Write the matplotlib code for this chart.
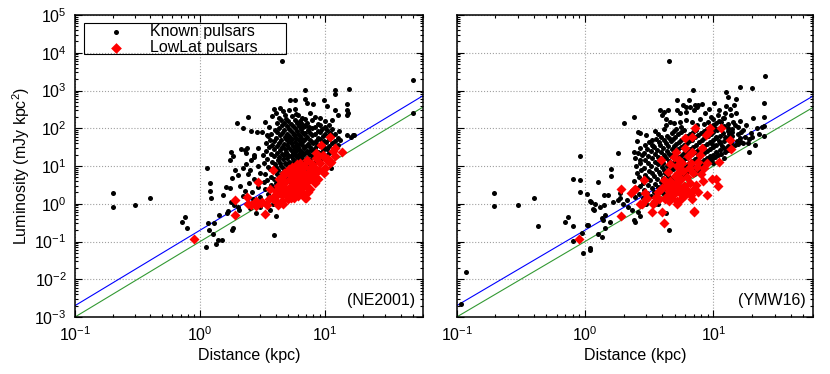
import numpy as np
import matplotlib
matplotlib.use("Agg")
import matplotlib.pyplot as plt
from matplotlib.patches import Rectangle
from matplotlib.ticker import LogLocator, NullFormatter

plt.rcParams['font.family'] = ['Liberation Sans', 'DejaVu Sans']
plt.rcParams['mathtext.fontset'] = 'custom'
plt.rcParams['mathtext.rm'] = 'Liberation Sans'
plt.rcParams['mathtext.default'] = 'regular'

# ---- data: (distance kpc, luminosity mJy kpc^2) ----
ne_known = [
    (0.2, 1.9), (0.2, 0.84), (0.3, 0.9), (0.4, 1.4),
    (0.72, 0.32), (0.75, 0.44), (0.78, 0.23),
    (1.12, 0.072), (1.13, 8.7), (1.15, 0.3), (1.17, 0.2), (1.19, 3.5), (1.19, 2.2), (1.22, 1.4),
    (1.26, 0.16), (1.3, 0.3), (1.33, 0.085), (1.4, 0.11), (1.42, 0.5), (1.5, 0.11), (1.52, 1.7),
    (1.6, 2.8), (1.63, 0.56), (1.66, 0.65), (1.72, 2.6), (1.75, 1.1), (1.77, 24), (1.72, 14),
    (1.83, 18), (1.8, 0.2), (1.84, 0.23), (1.85, 0.9), (1.9, 7.6), (2.0, 5.8), (1.8, 4.8),
    (1.98, 141), (2.02, 0.84), (2.06, 0.7), (2.13, 29), (2.2, 100), (2.27, 26), (2.34, 22),
    (2.34, 11.5), (2.4, 196), (2.5, 7.6), (2.56, 14), (2.55, 87), (2.85, 81), (2.5, 0.75),
    (2.8, 0.56), (3.0, 0.8), (2.1, 3.0), (2.2, 1.6), (2.3, 2.2), (2.45, 3.5), (2.6, 2.0),
    (2.7, 4.5), (2.9, 2.7), (2.65, 1.3), (2.2, 9.0), (2.4, 6.0), (2.7, 17), (2.9, 10), (3.0, 6.5),
    (3.1, 81), (3.4, 66), (3.6, 49), (3.35, 40), (2.9, 30), (3.2, 20), (3.0, 1.5), (3.3, 2.5),
    (3.9, 0.15), (4.0, 0.47), (3.6, 0.7), (3.8, 1.0), (3.5, 1.8), (2.35, 30), (2.7, 19.5),
    (3.25, 3.8), (3.3, 6.2), (3.22, 12), (3.35, 25), (3.28, 150), (3.45, 4.2), (3.5, 9.5),
    (3.42, 15), (3.55, 31), (3.48, 62), (3.52, 110),
    (3.65, 3.1), (3.7, 5.2), (3.62, 8.3), (3.75, 13), (3.68, 21), (3.72, 36), (3.66, 72),
    (3.74, 205), (3.85, 2.6), (3.9, 4.6), (3.82, 7.2), (3.95, 11), (3.88, 18), (3.92, 29),
    (3.86, 46), (3.94, 92), (3.9, 330),
    (4.05, 3.6), (4.1, 6.1), (4.02, 9.2), (4.15, 14), (4.08, 22), (4.12, 34), (4.06, 56),
    (4.14, 82), (4.1, 135), (4.04, 255),
    (4.25, 2.9), (4.3, 5.1), (4.22, 7.6), (4.35, 12), (4.28, 17), (4.32, 26), (4.26, 41),
    (4.34, 66), (4.3, 102), (4.24, 185), (4.36, 340),
    (4.45, 4.1), (4.5, 6.6), (4.42, 10), (4.55, 15), (4.48, 21), (4.52, 31), (4.46, 49),
    (4.54, 77), (4.5, 122), (4.44, 165), (4.56, 285), (4.47, 6100),
    (4.65, 3.1), (4.7, 5.6), (4.62, 8.6), (4.75, 12), (4.68, 19), (4.72, 28), (4.66, 39),
    (4.74, 59), (4.7, 92), (4.64, 142), (4.76, 225),
    (4.85, 4.6), (4.9, 7.1), (4.82, 11), (4.95, 16), (4.88, 24), (4.92, 36), (4.86, 53),
    (4.94, 71), (4.9, 112), (4.84, 178),
    (5.05, 3.9), (5.1, 6.1), (5.02, 9.1), (5.15, 13), (5.08, 20), (5.12, 30), (5.06, 45),
    (5.14, 63), (5.1, 97), (5.04, 152), (5.16, 305),
    (5.25, 5.1), (5.3, 8.1), (5.22, 12), (5.35, 18), (5.28, 26), (5.32, 41), (5.26, 56),
    (5.34, 87), (5.3, 132), (5.2, 570),
    (5.45, 4.3), (5.5, 7.1), (5.42, 10), (5.55, 15), (5.48, 22), (5.52, 34), (5.46, 51),
    (5.54, 76), (5.5, 117), (5.44, 205),
    (5.65, 6.1), (5.7, 9.1), (5.62, 13), (5.75, 19), (5.68, 28), (5.72, 43), (5.66, 66),
    (5.74, 102), (5.7, 162), (5.7, 315), (5.7, 550),
    (5.85, 5.1), (5.9, 8.1), (5.82, 11), (5.95, 17), (5.88, 25), (5.92, 37), (5.86, 56),
    (5.94, 86), (5.9, 137), (5.84, 245),
    (6.05, 6.6), (6.1, 10), (6.02, 14), (6.15, 21), (6.08, 31), (6.12, 48), (6.06, 71),
    (6.14, 112), (6.1, 228),
    (6.25, 5.6), (6.3, 9.1), (6.22, 12), (6.35, 18), (6.28, 27), (6.32, 41), (6.26, 61),
    (6.34, 96), (6.3, 152),
    (6.45, 7.1), (6.5, 11), (6.42, 16), (6.55, 24), (6.48, 35), (6.52, 53), (6.46, 81),
    (6.54, 126), (6.5, 192),
    (6.65, 8.1), (6.7, 13), (6.62, 20), (6.75, 30), (6.68, 46), (6.72, 69), (6.66, 106),
    (6.9, 600),
    (6.85, 9.1), (6.9, 14), (6.82, 22), (6.95, 33), (6.88, 51), (6.92, 76), (6.86, 117),
    (6.94, 172), (6.9, 1020),
    (7.15, 10), (7.2, 16), (7.12, 25), (7.25, 38), (7.18, 59), (7.22, 89), (7.16, 142), (7.2, 470),
    (7.45, 9.2), (7.5, 14), (7.42, 21), (7.55, 32), (7.48, 49), (7.52, 73), (7.46, 111), (7.5, 252),
    (7.75, 12), (7.8, 18), (7.72, 27), (7.85, 43), (7.78, 66), (7.82, 101), (7.76, 162),
    (8.0, 11), (8.05, 17), (7.98, 26), (8.02, 41), (8.0, 440),
    (8.25, 13), (8.3, 20), (8.22, 30), (8.35, 46), (8.28, 71), (8.32, 111), (8.3, 202),
    (8.65, 15), (8.7, 23), (8.62, 35), (8.75, 56), (8.68, 86), (8.72, 131),
    (9.05, 14), (9.1, 22), (9.02, 33), (9.15, 51), (9.08, 79), (9.12, 121), (9.1, 182),
    (9.45, 17), (9.5, 26), (9.42, 40), (9.55, 63), (9.48, 96),
    (9.85, 20), (9.9, 30), (9.82, 46), (9.95, 71), (9.88, 111), (9.8, 560), (9.92, 152),
    (10.25, 18), (10.3, 28), (10.22, 42), (10.3, 380), (10.35, 91),
    (10.75, 22), (10.8, 33), (10.72, 51), (10.85, 76), (10.78, 122),
    (11.2, 9.0), (11.3, 25), (11.22, 40), (11.35, 61), (11.28, 96), (11.32, 162),
    (11.9, 28), (11.85, 46), (11.95, 71), (11.9, 310), (12.0, 800), (12.0, 1020),
    (12.7, 35), (12.65, 56), (12.75, 86), (12.7, 225), (13.0, 50),
    (15.0, 65), (15.0, 300), (15.2, 250), (14.8, 220), (15.0, 450), (15.5, 1100),
    (16.5, 66), (16.0, 60), (17.0, 65),
    (50.0, 1900), (50.0, 250),
]

ne_lowlat = [
    (0.9, 0.115), (1.9, 1.25), (1.9, 0.5), (2.35, 1.5), (2.4, 1.0), (2.55, 0.92), (2.8, 1.2),
    (2.8, 0.85), (2.9, 3.8), (3.05, 1.02), (3.3, 0.54), (3.4, 0.9), (3.55, 1.3), (3.8, 7.8),
    (3.9, 1.6), (4.0, 2.2), (4.1, 1.1), (4.2, 3.0), (4.3, 4.5), (4.4, 2.0), (4.5, 1.2),
    (4.6, 5.5), (4.7, 2.8), (4.8, 3.8), (4.9, 1.6), (5.0, 7.0), (5.1, 2.4), (5.2, 4.6),
    (5.3, 1.4), (5.4, 9.5), (5.5, 3.2), (5.6, 6.0), (5.7, 2.0), (5.8, 1.7), (5.9, 4.0),
    (6.0, 8.5), (6.1, 2.6), (6.2, 5.2), (6.3, 12), (6.4, 3.4), (6.5, 7.0), (6.6, 1.9),
    (6.7, 4.8), (6.8, 10), (6.9, 1.45), (7.0, 3.0), (7.1, 6.0), (7.2, 14), (7.4, 4.2),
    (7.5, 8.5), (7.6, 2.5), (7.8, 11), (8.0, 5.5), (8.2, 3.6), (8.4, 16), (8.6, 7.5),
    (8.8, 4.5), (9.0, 12), (9.3, 36), (9.5, 20), (9.8, 6.5), (10.0, 9.0), (10.5, 15),
    (11.0, 57), (11.0, 12), (11.5, 25), (12.0, 18), (13.7, 24), (4.0, 1.6), (4.6, 1.0),
    (5.0, 1.3), (5.5, 2.5), (6.0, 1.6), (5.2, 2.0), (4.4, 3.5), (5.7, 5.0), (6.3, 2.2),
    (7.3, 2.0), (3.6, 2.5), (3.8, 1.3), (4.2, 0.95), (7.0, 1.45), (5.6, 1.45), (3.1, 1.1),
    (8.5, 22), (9.6, 18), (11.9, 30), (10.3, 14.5), (11.2, 13),
    (4.5, 1.7), (4.8, 2.2), (5.3, 3.0), (5.6, 4.2), (6.1, 3.6), (6.5, 2.8), (6.8, 5.5),
    (7.2, 4.0), (7.8, 6.5), (8.3, 9.0), (8.9, 8.0), (5.9, 11), (6.6, 9.0), (4.7, 6.5), (5.1, 8.2),
]

ymw_known = [
    (0.108, 0.0022), (0.118, 0.0156), (0.197, 1.9), (0.197, 0.85), (0.3, 0.9), (0.4, 1.38),
    (0.43, 0.25), (0.70, 0.32), (0.73, 0.45), (0.8, 0.25), (0.81, 0.105), (0.91, 18),
    (0.81, 4.5), (0.92, 4.3), (0.92, 2.0), (0.94, 0.17), (0.97, 0.05),
    (1.09, 0.068), (1.09, 0.059), (1.03, 1.8), (1.06, 0.27), (1.1, 1.15), (1.15, 0.72),
    (1.26, 3.7), (1.26, 0.16), (1.35, 0.13), (1.35, 0.42), (1.4, 0.93), (1.42, 0.49),
    (1.44, 0.23), (1.4, 1.74), (1.5, 1.74), (1.6, 8.5), (1.6, 5.3), (1.8, 22), (2.0, 134),
    (1.8, 1.26), (2.4, 195), (1.12, 1.13), (1.2, 1.0), (1.3, 0.83), (1.17, 0.67), (1.37, 0.37),
    (1.57, 0.33), (1.03, 0.28), (1.65, 1.13), (1.88, 1.4), (1.98, 1.0), (2.12, 1.26),
    (2.17, 0.83), (2.31, 0.67), (2.6, 0.61), (3.0, 1.0), (2.7, 0.46), (2.4, 0.37), (2.45, 0.33),
    (1.88, 1.9), (3.5, 1.0), (3.7, 0.96), (4.3, 0.56), (4.5, 0.2), (4.47, 6000),
    (2.6, 81), (2.7, 74), (2.4, 24), (2.45, 16), (2.6, 22), (2.7, 14.5), (2.8, 19),
    (2.45, 1.5), (2.5, 2.6), (2.42, 4.0), (2.55, 6.5), (2.48, 10), (2.55, 45),
    (2.65, 1.8), (2.7, 3.0), (2.62, 5.0), (2.75, 8.0), (2.68, 12), (2.66, 30),
    (2.85, 1.4), (2.9, 2.3), (2.82, 3.6), (2.95, 5.8), (2.88, 9.0), (2.92, 14), (2.86, 22),
    (2.94, 35),
    (3.05, 1.9), (3.1, 3.1), (3.02, 4.8), (3.15, 7.5), (3.08, 12), (3.12, 18), (3.06, 28),
    (3.14, 44), (3.0, 66),
    (3.25, 1.6), (3.3, 2.6), (3.22, 4.2), (3.35, 6.6), (3.28, 10), (3.32, 16), (3.26, 25),
    (3.34, 36), (3.3, 49), (3.4, 33),
    (3.45, 2.1), (3.5, 3.4), (3.42, 5.5), (3.55, 8.5), (3.48, 13), (3.52, 21), (3.46, 32),
    (3.54, 52), (3.5, 85),
    (3.65, 1.7), (3.7, 2.8), (3.62, 4.5), (3.75, 7.0), (3.68, 11), (3.72, 17), (3.66, 27),
    (3.74, 42), (3.7, 70), (3.86, 300),
    (3.85, 2.3), (3.9, 3.7), (3.82, 6.0), (3.95, 9.5), (3.88, 15), (3.92, 23), (3.86, 36),
    (3.94, 58), (3.95, 225),
    (4.05, 1.9), (4.1, 3.0), (4.02, 4.9), (4.15, 7.8), (4.08, 12), (4.12, 19), (4.06, 30),
    (4.14, 48), (4.1, 95), (4.1, 275), (4.3, 180),
    (4.25, 2.5), (4.3, 4.0), (4.22, 6.4), (4.35, 10), (4.28, 16), (4.32, 25), (4.26, 40),
    (4.34, 64), (4.3, 120),
    (4.45, 2.1), (4.5, 3.4), (4.42, 5.4), (4.55, 8.6), (4.48, 13.5), (4.52, 21), (4.46, 34),
    (4.54, 55), (4.45, 300), (4.6, 148),
    (4.65, 2.8), (4.7, 4.5), (4.62, 7.2), (4.75, 11.5), (4.68, 18), (4.72, 29), (4.66, 46),
    (4.74, 75),
    (4.85, 3.2), (4.9, 5.2), (4.82, 8.3), (4.95, 13), (4.88, 21), (4.92, 33), (4.86, 52),
    (4.94, 85), (4.9, 134),
    (5.05, 3.8), (5.1, 6.0), (5.02, 9.6), (5.15, 15), (5.08, 24), (5.12, 38), (5.06, 60),
    (5.14, 95), (5.2, 300), (5.2, 560),
    (5.3, 4.4), (5.35, 7.0), (5.28, 11), (5.4, 17.5), (5.32, 28), (5.38, 44), (5.3, 70),
    (5.5, 250), (5.5, 148),
    (5.55, 5.0), (5.6, 8.0), (5.52, 12.5), (5.65, 20), (5.58, 32), (5.62, 50), (5.56, 80),
    (5.6, 110),
    (5.85, 5.6), (5.9, 9.0), (5.82, 14), (5.95, 22), (5.88, 36), (5.92, 56), (5.8, 420),
    (5.9, 90),
    (6.15, 6.5), (6.2, 10), (6.12, 16), (6.25, 25), (6.18, 40), (6.22, 63), (6.1, 270),
    (6.1, 165), (6.1, 360),
    (6.45, 7.5), (6.5, 12), (6.42, 18), (6.55, 28), (6.48, 45), (6.52, 70), (6.5, 560),
    (6.6, 370),
    (6.8, 8.5), (6.85, 13.5), (6.78, 21), (6.9, 32), (6.82, 50), (6.88, 78), (6.8, 148),
    (6.9, 1020), (7.1, 300),
    (7.2, 9.5), (7.25, 15), (7.18, 24), (7.3, 37), (7.22, 58), (7.28, 90), (7.2, 420),
    (7.6, 11), (7.65, 17), (7.58, 27), (7.7, 42), (7.62, 66), (7.6, 420), (7.5, 370),
    (8.0, 12.5), (8.05, 19), (7.98, 30), (8.1, 48), (8.02, 75), (8.1, 440),
    (8.4, 14), (8.45, 22), (8.38, 34), (8.5, 54), (8.42, 85), (8.5, 130),
    (8.9, 16), (8.95, 25), (8.88, 39), (9.0, 62), (8.92, 97), (9.0, 150),
    (9.4, 18), (9.45, 28), (9.38, 44), (9.5, 70), (9.42, 110), (9.5, 200),
    (9.9, 20), (9.95, 31), (9.88, 50), (10.0, 80), (9.92, 125), (10.1, 460), (10.0, 180),
    (10.5, 23), (10.55, 36), (10.48, 56), (10.6, 90), (10.5, 140), (11.0, 300), (10.8, 220),
    (11.2, 26), (11.25, 41), (11.18, 64), (11.3, 100), (11.8, 185), (11.5, 150),
    (12.0, 30), (12.05, 47), (11.98, 75), (12.1, 115), (12.5, 930), (12.4, 250), (12.6, 400),
    (13.1, 690),
    (12.9, 34), (12.95, 54), (12.88, 85), (13.0, 130), (13.7, 225), (13.4, 330),
    (13.8, 40), (14.0, 62), (13.9, 96), (14.2, 150), (15.0, 250), (15.0, 590), (14.5, 420),
    (15.2, 45), (15.5, 70), (15.6, 105), (16.0, 1260), (16.4, 81), (16.0, 160),
    (17.0, 40), (17.5, 58), (18.0, 120), (19.0, 51), (19.0, 24), (19.5, 74), (20.0, 1180),
    (20.5, 190), (22.0, 100), (22.5, 70), (24.0, 110),
    (25.4, 2400), (25.0, 460), (25.0, 200), (25.0, 115), (25.0, 63),
    (7.0, 6.0), (7.4, 7.5), (7.9, 9.0), (8.3, 10.5), (8.7, 12), (9.2, 13.5), (9.7, 15),
    (10.2, 17), (10.8, 19), (11.5, 21), (12.2, 24), (13.0, 27), (13.8, 31), (14.6, 35),
    (15.5, 38), (16.5, 44), (7.4, 120), (7.9, 180), (8.6, 250), (9.3, 330), (10.5, 60),
    (11.0, 45), (11.6, 33), (12.4, 60), (13.2, 70), (14.0, 80), (14.8, 120), (16.0, 55),
    (17.0, 90), (18.5, 40), (20.0, 60), (21.0, 35), (9.8, 38), (10.3, 100), (11.0, 160),
    (12.0, 190), (13.0, 100), (12.0, 16), (10.0, 12),
]

ymw_lowlat = [
    (0.89, 0.117), (1.9, 2.4), (1.9, 0.48), (2.3, 1.9), (2.4, 2.3), (2.45, 2.4), (2.7, 1.0),
    (2.78, 1.0), (2.9, 4.3), (2.95, 1.9), (3.05, 1.4), (3.0, 1.3), (3.3, 0.6), (3.4, 1.0),
    (3.5, 1.15), (3.6, 1.5), (3.8, 1.3), (3.9, 14.5), (4.0, 0.6), (4.1, 0.3), (4.1, 4.2),
    (4.2, 1.3), (4.3, 1.5), (4.5, 1.2), (4.5, 2.2), (4.85, 1.7), (5.15, 23), (5.2, 1.15),
    (5.2, 1.0), (5.4, 8.7), (5.4, 2.7), (5.5, 1.9), (5.7, 12), (6.0, 55), (6.0, 30),
    (6.0, 1.74), (6.2, 1.9), (6.5, 1.9), (6.65, 1.74), (6.8, 57), (6.8, 23), (7.0, 0.62),
    (7.05, 0.63), (7.2, 100), (7.3, 3.2), (7.6, 12.6), (8.0, 6.2), (8.1, 30), (8.7, 66),
    (8.9, 12), (8.9, 1.74), (9.2, 82), (9.4, 100), (9.7, 4.6), (10.4, 4.6), (11.0, 12.5),
    (10.8, 3.0), (11.4, 100), (13.4, 49), (13.7, 28),
    (4.3, 3.0), (4.6, 4.0), (4.8, 2.8), (5.0, 5.5), (5.1, 3.5), (5.3, 6.5), (5.6, 4.5),
    (5.8, 7.5), (5.9, 3.0), (6.2, 5.0), (6.4, 9.0), (6.6, 3.6), (6.9, 6.5), (7.0, 2.4),
    (7.4, 9.5), (4.6, 11), (4.9, 17), (5.4, 14), (6.3, 18), (6.1, 2.5), (5.7, 2.2),
    (4.7, 1.4), (5.0, 2.0), (5.6, 1.3), (3.7, 2.0), (4.0, 2.6), (6.8, 1.3), (7.6, 2.0),
    (8.3, 4.0), (4.4, 7.0), (5.2, 10), (6.7, 12), (7.8, 20), (8.5, 9.0),
]

# flux limits of the two survey lines (mJy): L = S d^2
s_blue = 0.2
s_green = 0.1
d_range = np.array([0.1, 60.0])

fig = plt.figure(figsize=(8.3, 3.74), dpi=100)
ax1 = fig.add_axes([75 / 830, 57 / 374, 347.7 / 830, 302 / 374])
ax2 = fig.add_axes([456.7 / 830, 57 / 374, 356.6 / 830, 302 / 374])


def panel(ax, known, lowlat, tag):
    kd, kl = zip(*known)
    ld, ll = zip(*lowlat)
    ax.plot(d_range, s_blue * d_range ** 2, color='#0000ff', lw=0.8, zorder=1)
    ax.plot(d_range, s_green * d_range ** 2, color='#339933', lw=0.8, zorder=1)
    ax.scatter(kd, kl, s=13, c='black', marker='o', lw=0, zorder=2, label='Known pulsars')
    ax.scatter(ld, ll, s=26, c='#ff0000', marker='D', lw=0, zorder=3, label='LowLat pulsars')
    ax.set_xscale('log')
    ax.set_yscale('log')
    ax.set_xlim(0.1, 60)
    ax.set_ylim(1e-3, 1e5)
    ax.xaxis.set_major_locator(LogLocator(base=10, numticks=10))
    ax.yaxis.set_major_locator(LogLocator(base=10, numticks=20))
    ax.xaxis.set_minor_locator(LogLocator(base=10, subs=np.arange(2, 10), numticks=20))
    ax.yaxis.set_minor_locator(LogLocator(base=10, subs=np.arange(2, 10), numticks=20))
    ax.xaxis.set_minor_formatter(NullFormatter())
    ax.yaxis.set_minor_formatter(NullFormatter())
    ax.grid(True, which='major', ls=':', color='#a0a0a0', lw=0.8)
    ax.set_axisbelow(True)
    ax.tick_params(which='both', direction='in', top=True, right=True, width=0.8,
                   labelsize=11.5)
    ax.tick_params(which='major', length=5, pad=6)
    ax.tick_params(which='minor', length=2.5)
    for sp in ax.spines.values():
        sp.set_linewidth(1.1)
    ax.set_xlabel('Distance (kpc)', fontsize=11.5, labelpad=3)
    ax.text(0.978, 0.056, tag, transform=ax.transAxes, ha='right', va='center',
            fontsize=11.5)


panel(ax1, ne_known, ne_lowlat, '(NE2001)')
panel(ax2, ymw_known, ymw_lowlat, '(YMW16)')
ax1.set_ylabel('Luminosity (mJy kpc$^2$)', fontsize=11.5, labelpad=2)
ax2.tick_params(axis='y', labelleft=False)

# legend box like gnuplot's
ax1.add_patch(Rectangle((0.026, 0.871), 0.581, 0.1025, transform=ax1.transAxes,
                        fill=False, ec='black', lw=0.8, zorder=5))
h, lab = ax1.get_legend_handles_labels()
leg = ax1.legend(h, lab, loc='upper left', bbox_to_anchor=(0.059, 1.006), frameon=False,
                 fontsize=11.5, handlelength=1.2, handletextpad=1.5, labelspacing=0.07,
                 borderpad=0.2)
leg.legend_handles[0].set_sizes([13])
leg.legend_handles[1].set_sizes([30])

fig.savefig('out.png', dpi=100)
